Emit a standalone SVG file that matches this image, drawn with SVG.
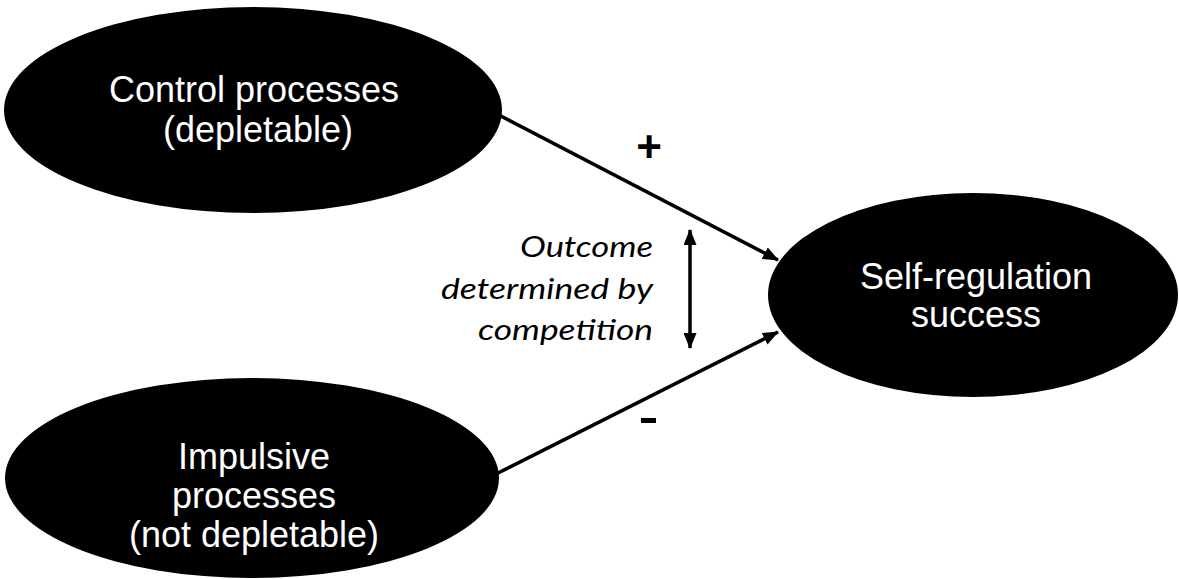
<svg xmlns="http://www.w3.org/2000/svg" width="1179" height="579" viewBox="0 0 1179 579">
  <defs>
    <marker id="ah" viewBox="0 0 16 13" refX="15" refY="6.5" markerWidth="16" markerHeight="13" markerUnits="userSpaceOnUse" orient="auto-start-reverse">
      <path d="M0,0 L16,6.5 L0,13 Z" fill="#000"/>
    </marker>
  </defs>
  <style>
    .node { fill: #000; }
    .lbl { fill: #fff; font-family: "Liberation Sans", Arial, sans-serif; font-size: 36px; text-anchor: middle; }
    .conn { stroke: #000; stroke-width: 3.5; fill: none; }
    .note { fill: #000; font-family: Lato, "Open Sans", sans-serif; font-style: italic; font-size: 29px; text-anchor: end; }
    .sign { fill: #000; font-family: "Liberation Sans", Arial, sans-serif; font-weight: bold; font-size: 44px; text-anchor: middle; }
  </style>
  <rect width="1179" height="579" fill="#fff"/>
  <g id="connectors">
    <line class="conn" x1="493" y1="112" x2="778" y2="260" marker-end="url(#ah)"/>
    <line class="conn" x1="492" y1="476" x2="778" y2="332" marker-end="url(#ah)"/>
    <line class="conn" x1="690" y1="230" x2="690" y2="348" marker-start="url(#ah)" marker-end="url(#ah)"/>
  </g>
  <g id="node-control">
    <ellipse class="node" cx="253" cy="110" rx="249" ry="103"/>
    <text class="lbl" x="254" y="102">Control processes</text>
    <text class="lbl" x="258" y="142">(depletable)</text>
  </g>
  <g id="node-impulsive">
    <ellipse class="node" cx="252" cy="478" rx="247" ry="100"/>
    <text class="lbl" x="254" y="469">Impulsive</text>
    <text class="lbl" x="254" y="508">processes</text>
    <text class="lbl" x="254" y="547">(not depletable)</text>
  </g>
  <g id="node-success">
    <ellipse class="node" cx="973" cy="295" rx="205" ry="102"/>
    <text class="lbl" x="976" y="289">Self-regulation</text>
    <text class="lbl" x="976" y="327">success</text>
  </g>
  <g id="labels">
    <text class="sign" x="649" y="162">+</text>
    <rect x="641" y="418" width="15" height="5" fill="#000"/>
    <text class="note" x="653" y="257" textLength="133" lengthAdjust="spacingAndGlyphs">Outcome</text>
    <text class="note" x="653" y="299" textLength="212" lengthAdjust="spacingAndGlyphs">determined by</text>
    <text class="note" x="653" y="340" textLength="175" lengthAdjust="spacingAndGlyphs">competition</text>
  </g>
</svg>
